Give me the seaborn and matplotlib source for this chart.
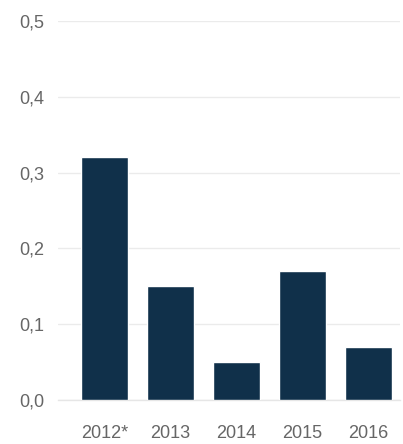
import matplotlib
matplotlib.use("Agg")
import matplotlib.pyplot as plt
import seaborn as sns
import pandas as pd
from matplotlib.ticker import FuncFormatter

categories = ["2012*", "2013", "2014", "2015", "2016"]
values = [0.32, 0.15, 0.05, 0.17, 0.07]

sns.set_theme(style="white")
plt.rcParams['font.family'] = ['Liberation Sans', 'DejaVu Sans']

df = pd.DataFrame({"year": categories, "value": values})

fig = plt.figure(figsize=(4.03, 4.44), dpi=100)
ax = fig.add_axes([0.144, 0.099, 0.849, 0.854])
sns.barplot(data=df, x="year", y="value", color="#10304a", width=0.71,
            saturation=1, ax=ax, zorder=3)
ax.set_ylim(0, 0.5)
ax.set_xlim(-0.70, 4.48)
ax.set_yticks([0, 0.1, 0.2, 0.3, 0.4, 0.5])
ax.yaxis.set_major_formatter(FuncFormatter(lambda v, p: f"{v:.1f}".replace(".", ",")))
ax.grid(axis="y", color="#ebebeb", linewidth=1, zorder=0)
ax.grid(axis="x", visible=False)
for s in ["top", "right", "left"]:
    ax.spines[s].set_visible(False)
ax.spines["bottom"].set_color("#e6e6e6")
ax.spines["bottom"].set_linewidth(1)
ax.set_xlabel("")
ax.set_ylabel("")
ax.tick_params(axis="y", length=0, pad=10, labelsize=13, labelcolor="#666666")
ax.tick_params(axis="x", length=0, pad=18, labelsize=13, labelcolor="#666666")
fig.savefig("out.png", dpi=100)
